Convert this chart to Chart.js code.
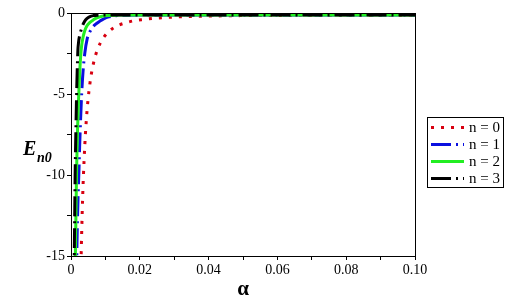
<!DOCTYPE html>
<html>
<head>
<meta charset="utf-8">
<script src="https://cdn.jsdelivr.net/npm/chart.js@4"></script>
<style>
  html, body { margin: 0; padding: 0; background: #fff; }
  #wrap { width: 512px; height: 305px; }
</style>
</head>
<body>
<div id="wrap"><canvas id="energyChart" width="512" height="305"></canvas></div>
<script>
// values
const alpha0 = [0.0029, 0.0031, 0.0034, 0.0038, 0.0042, 0.0046, 0.005, 0.0055, 0.006, 0.0068, 0.0076, 0.0085, 0.0095, 0.0105, 0.012, 0.014, 0.016, 0.018, 0.021, 0.025, 0.03, 0.035, 0.04, 0.05, 0.06, 0.08, 0.1];
const energy0 = [-15.5, -13.6, -11.3, -9.1, -7.45, -6.2, -5.25, -4.35, -3.66, -2.87, -2.31, -1.86, -1.5, -1.24, -0.97, -0.74, -0.6, -0.49, -0.4, -0.31, -0.25, -0.21, -0.19, -0.16, -0.15, -0.14, -0.13];

const alpha1 = [0.0016, 0.0017, 0.0019, 0.0021, 0.0023, 0.0025, 0.0028, 0.0031, 0.0035, 0.004, 0.0047, 0.0055, 0.0063, 0.007, 0.0084, 0.0095, 0.011, 0.013, 0.016, 0.02, 0.05, 0.1];
const energy1 = [-16.5, -14.7, -12.6, -11.0, -9.8, -8.3, -6.5, -5.0, -3.6, -2.5, -1.6, -1.15, -0.88, -0.72, -0.5, -0.36, -0.24, -0.17, -0.14, -0.13, -0.12, -0.12];

const alpha2 = [0.0012, 0.0013, 0.0015, 0.0016, 0.0017, 0.0019, 0.0022, 0.0025, 0.0028, 0.0031, 0.0035, 0.004, 0.0046, 0.0055, 0.0065, 0.0075, 0.009, 0.011, 0.014, 0.02, 0.05, 0.1];
const energy2 = [-16, -14.5, -11.5, -10.0, -9.0, -7.2, -5.3, -3.8, -2.7, -2.0, -1.5, -1.1, -0.8, -0.58, -0.42, -0.3, -0.2, -0.15, -0.13, -0.12, -0.12, -0.12];

const alpha3 = [0.0009, 0.00095, 0.0011, 0.0012, 0.0014, 0.0016, 0.0018, 0.002, 0.0022, 0.0025, 0.0028, 0.0031, 0.0035, 0.004, 0.0046, 0.0055, 0.0065, 0.008, 0.01, 0.02, 0.05, 0.1];
const energy3 = [-16.5, -15, -12, -10, -7.5, -5.3, -3.6, -2.3, -1.8, -1.4, -1.15, -0.95, -0.7, -0.5, -0.35, -0.22, -0.16, -0.13, -0.12, -0.12, -0.12, -0.12];

const seriesLabels = ['n = 0', 'n = 1', 'n = 2', 'n = 3'];
const xTickLabels = ['0', '0.02', '0.04', '0.06', '0.08', '0.10'];
const yTickLabels = ['-15', '-10', '-5', '0'];

const colors = ['#d80010', '#0a10e0', '#22ee22', '#000000'];
const dashes = [[3, 7], [20, 5, 2, 5], [], [20, 5, 2, 5]];
const serif = '"Liberation Serif", "Times New Roman", serif';

function points(xs, ys) {
  return xs.map((x, i) => ({ x: x, y: ys[i] }));
}

const allAlpha = [alpha0, alpha1, alpha2, alpha3];
const allEnergy = [energy0, energy1, energy2, energy3];

const datasets = seriesLabels.map((label, i) => ({
  label: label,
  data: points(allAlpha[i], allEnergy[i]),
  borderColor: colors[i],
  borderWidth: 3,
  borderDash: dashes[i],
  pointRadius: 0,
  showLine: true,
  fill: false,
  cubicInterpolationMode: 'monotone',
  order: 3 - i
}));

// frame, y title with subscript, legend box
const extras = {
  id: 'extras',
  afterDraw(chart) {
    const c = chart.ctx;
    const a = chart.chartArea;
    c.save();
    c.strokeStyle = '#000';
    c.lineWidth = 1;
    c.strokeRect(a.left + 0.5, a.top + 0.5, a.right - a.left, a.bottom - a.top);

    // y title
    c.fillStyle = '#000';
    c.textBaseline = 'alphabetic';
    c.font = 'bold italic 20px ' + serif;
    c.fillText('E', 23, 155);
    c.font = 'bold italic 14px ' + serif;
    c.fillText('n0', 37, 162);

    // legend
    c.fillStyle = '#fff';
    c.fillRect(427, 117, 76, 70);
    c.strokeRect(427.5, 117.5, 76, 70);
    seriesLabels.forEach((label, i) => {
      const y = 127 + i * 17;
      c.beginPath();
      c.setLineDash(dashes[i]);
      c.lineWidth = 3;
      c.strokeStyle = colors[i];
      c.moveTo(431, y + 0.5);
      c.lineTo(464, y + 0.5);
      c.stroke();
      c.setLineDash([]);
      c.fillStyle = '#000';
      c.font = '15px ' + serif;
      c.textBaseline = 'middle';
      c.fillText(label, 469, y + 1);
    });
    c.restore();
  }
};

const ctx = document.getElementById('energyChart').getContext('2d');
const energyChart = new Chart(ctx, {
  type: 'scatter',
  data: { datasets: datasets },
  options: {
    responsive: false,
    animation: false,
    layout: { padding: { left: 0, right: 97, top: 13, bottom: 0 } },
    plugins: {
      legend: { display: false },
      tooltip: { enabled: false }
    },
    scales: {
      x: {
        type: 'linear',
        min: 0,
        max: 0.1,
        afterFit: s => { s.height = 49; },
        afterBuildTicks: s => {
          s.ticks = [];
          for (let k = 0; k <= 10; k++) s.ticks.push({ value: k / 100 });
        },
        ticks: {
          autoSkip: false,
          maxRotation: 0,
          color: '#000',
          font: { family: serif, size: 14 },
          padding: 2,
          callback: (v, i) => (i % 2 === 0 ? xTickLabels[i / 2] : '')
        },
        grid: { drawOnChartArea: false, tickLength: 4, color: '#000' },
        border: { display: true, color: '#000' },
        title: {
          display: true,
          text: 'α',
          color: '#000',
          font: { family: serif, size: 21, weight: 'bold' },
          padding: { top: 0, bottom: 3 }
        }
      },
      y: {
        min: -15,
        max: 0,
        afterFit: s => { s.width = 71; },
        afterBuildTicks: s => {
          s.ticks = [];
          for (let k = 0; k <= 6; k++) s.ticks.push({ value: -15 + k * 2.5 });
        },
        ticks: {
          autoSkip: false,
          color: '#000',
          font: { family: serif, size: 14 },
          padding: 2,
          callback: (v, i) => (i % 2 === 0 ? yTickLabels[i / 2] : '')
        },
        grid: { drawOnChartArea: false, tickLength: 4, color: '#000' },
        border: { display: true, color: '#000' }
      }
    }
  },
  plugins: [extras]
});
</script>
</body>
</html>
